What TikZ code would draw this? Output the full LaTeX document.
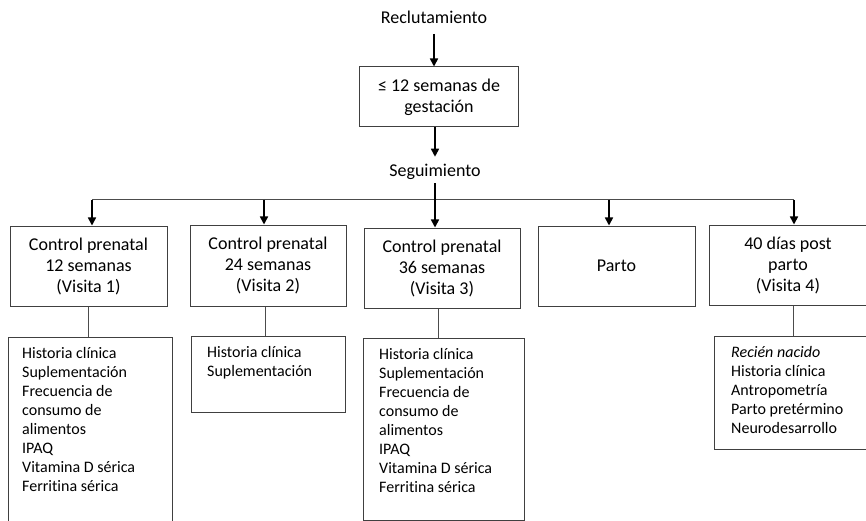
\documentclass[tikz,border=0pt]{standalone}
\usepackage{fontspec}
\setmainfont{Carlito}[Ligatures=NoCommon]
\usetikzlibrary{arrows.meta}
\begin{document}
\begin{tikzpicture}[x=1pt,y=-1pt,
 box/.style={draw=black!75, line width=1pt, rectangle, inner sep=0pt},
 hdr/.style={align=center, font=\fontsize{18}{21}\selectfont},
 lbl/.style={font=\fontsize{18}{21}\selectfont},
 lst/.style={align=left, anchor=north west, inner sep=0pt, font=\fontsize{16}{19}\selectfont},
 arr/.style={-{Triangle[length=8pt,width=8pt]}, line width=1.6pt, black},
 ln/.style={line width=1pt, black!70}]
\useasboundingbox (0,0) rectangle (866,521);

\node[lbl] (rec) at (434,17) {Reclutamiento};
\node[box, hdr, minimum width=159pt, minimum height=60pt] (box1) at (439,97) {≤ 12 semanas de\\gestación};
\node[lbl] (seg) at (435,172) {Seguimiento};

\node[box, hdr, minimum width=157pt, minimum height=80pt] (a) at (88.5,266) {Control prenatal\\12 semanas\\(Visita 1)};
\node[box, hdr, minimum width=156pt, minimum height=81pt] (b) at (268,265.5) {Control prenatal\\24 semanas\\(Visita 2)};
\node[box, hdr, minimum width=156pt, minimum height=80pt] (c) at (442,268) {Control prenatal\\36 semanas\\(Visita 3)};
\node[box, hdr, minimum width=157pt, minimum height=80pt] (d) at (616.5,266) {Parto};
\node[box, hdr, minimum width=158pt, minimum height=80pt] (e) at (788,265) {40 días post\\parto\\(Visita 4)};

\node[box, minimum width=164pt, minimum height=193pt] (da) at (90,433.5) {};
\node[box, minimum width=154pt, minimum height=76pt] (db) at (268,374) {};
\node[box, minimum width=161pt, minimum height=182pt] (dc) at (443.5,429) {};
\node[box, minimum width=154pt, minimum height=113pt] (de) at (791,392.5) {};

\node[lst] (ta) at (22,347) {Historia clínica\\Suplementación\\Frecuencia de\\consumo de\\alimentos\\IPAQ\\Vitamina D sérica\\Ferritina sérica};
\node[lst] (tb) at (207,346) {Historia clínica\\Suplementación};
\node[lst] (tc) at (379,348) {Historia clínica\\Suplementación\\Frecuencia de\\consumo de\\alimentos\\IPAQ\\Vitamina D sérica\\Ferritina sérica};
\node[lst] (te) at (731,346) {\textit{Recién nacido}\\Historia clínica\\Antropometría\\Parto pretérmino\\Neurodesarrollo};

\coordinate (h1) at (92,200);
\coordinate (h2) at (264,200);
\coordinate (h4) at (609,200);
\coordinate (h5) at (794,200);

\draw[arr] ([yshift=-7pt]rec.south) -- (rec.south |- box1.north);
\draw[arr] (box1.south -| seg.south) -- ([yshift=4pt]seg.north);
\draw[ln] (h1) -- (h5);
\draw[arr] (seg.south) -- (seg.south |- c.north);
\draw[arr] (h1) -- (h1 |- a.north);
\draw[arr] (h2) -- (h2 |- b.north);
\draw[arr] (h4) -- (h4 |- d.north);
\draw[arr] (h5) -- (h5 |- e.north);

\draw[ln] (a.south) -- (a.south |- da.north);
\draw[ln] ([xshift=-3pt]b.south) -- ([xshift=-3pt]b.south |- db.north);
\draw[ln] ([xshift=-4pt]c.south) -- ([xshift=-4pt]c.south |- dc.north);
\draw[ln] ([xshift=5pt]e.south) -- ([xshift=5pt]e.south |- de.north);
\end{tikzpicture}
\end{document}
